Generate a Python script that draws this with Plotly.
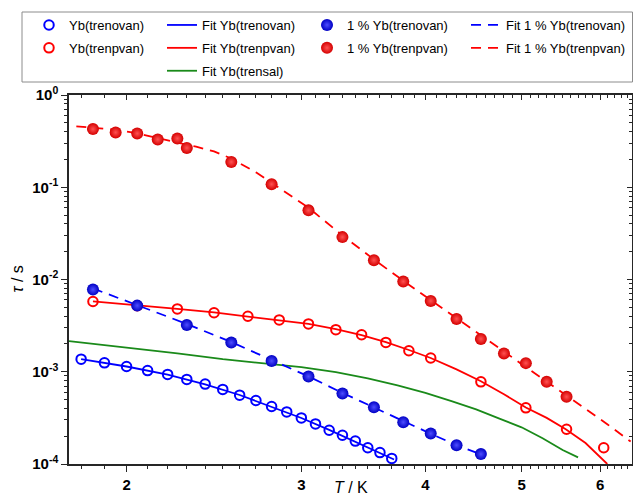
import math
import plotly.graph_objects as go

# ---------------- data ----------------
# Yb(trenovan)  (open blue circles)
T_ov = [1.8, 1.9, 2.0, 2.1, 2.2, 2.3, 2.4, 2.5, 2.6, 2.7, 2.8, 2.9, 3.0, 3.1, 3.2, 3.3, 3.4, 3.5, 3.6, 3.7]
tau_ov = [0.00137, 0.00125, 0.00114, 0.00103, 0.000935, 0.000826, 0.000735, 0.000643, 0.000557, 0.000488,
          0.000420, 0.000367, 0.000316, 0.000272, 0.000232, 0.000205, 0.000177, 0.000150, 0.000133, 0.000115]
# Fit Yb(trenovan)
Tf_ov = [1.8, 2.0, 2.2, 2.4, 2.6, 2.8, 3.0, 3.2, 3.4, 3.6, 3.72]
tauf_ov = [0.00137, 0.00114, 0.00093, 0.00073, 0.00056, 0.00042, 0.000315, 0.000234, 0.000175, 0.000132, 0.000112]

# Yb(trenpvan)  (open red circles)
T_pv = [1.85, 2.05, 2.25, 2.45, 2.65, 2.85, 3.05, 3.25, 3.45, 3.65, 3.85, 4.05, 4.55, 5.05, 5.55, 6.05]
tau_pv = [0.00577, 0.0052, 0.0048, 0.00436, 0.0040, 0.00365, 0.0033, 0.00286, 0.00252, 0.00208, 0.00169,
          0.00141, 0.000778, 0.000406, 0.000238, 0.000150]
# Fit Yb(trenpvan)
Tf_pv = [1.85, 2.05, 2.25, 2.45, 2.65, 2.85, 3.05, 3.25, 3.45, 3.65, 3.85, 4.05, 4.3, 4.55, 4.8, 5.05, 5.3,
         5.54, 5.8, 6.04, 6.1]
tauf_pv = [0.0058, 0.0053, 0.0048, 0.0044, 0.0040, 0.0036, 0.0033, 0.0029, 0.0025, 0.0021, 0.00172, 0.00141,
           0.00106, 0.00079, 0.00057, 0.00041, 0.000316, 0.000238, 0.000169, 0.00011, 0.0001]

# Fit Yb(trensal)
Tf_sal = [1.75, 2.0, 2.25, 2.5, 2.75, 3.0, 3.25, 3.5, 3.75, 4.0, 4.25, 4.5, 4.75, 5.0, 5.25, 5.5, 5.7]
tauf_sal = [0.00215, 0.00183, 0.00158, 0.00137, 0.00124, 0.00112, 0.00099, 0.00085, 0.00071, 0.00059,
            0.00048, 0.00039, 0.00031, 0.00025, 0.00019, 0.000142, 0.000118]

# 1 % Yb(trenovan)  (filled blue spheres)
T_ov1 = [1.85, 2.05, 2.3, 2.55, 2.8, 3.05, 3.3, 3.55, 3.8, 4.05, 4.3, 4.55]
tau_ov1 = [0.00778, 0.00521, 0.00322, 0.00207, 0.00131, 0.00089, 0.00058, 0.000413, 0.000284, 0.000214,
           0.000160, 0.000128]
# Fit 1 % Yb(trenovan)
Tf_ov1 = [1.85, 2.05, 2.3, 2.55, 2.8, 3.05, 3.3, 3.55, 3.8, 4.05, 4.3, 4.55]
tauf_ov1 = [0.0080, 0.0053, 0.0033, 0.0021, 0.00133, 0.00089, 0.00059, 0.00041, 0.000288, 0.000213,
            0.000160, 0.000127]

# 1 % Yb(trenpvan)  (filled red spheres)
T_pv1 = [1.85, 1.95, 2.05, 2.15, 2.25, 2.3, 2.55, 2.8, 3.05, 3.3, 3.55, 3.8, 4.05, 4.3, 4.55, 4.8, 5.05,
         5.3, 5.55]
tau_pv1 = [0.427, 0.393, 0.383, 0.330, 0.338, 0.267, 0.188, 0.108, 0.0562, 0.0288, 0.0162, 0.00951,
           0.00586, 0.00374, 0.00227, 0.00158, 0.00124, 0.000778, 0.000535]
# Fit 1 % Yb(trenpvan)
Tf_pv1 = [1.78, 1.85, 1.95, 2.05, 2.15, 2.25, 2.35, 2.45, 2.55, 2.7, 2.8, 3.05, 3.3, 3.55, 3.8, 4.05, 4.3,
          4.55, 4.8, 5.05, 5.3, 5.55, 5.8, 6.1, 6.44]
tauf_pv1 = [0.458, 0.445, 0.42, 0.385, 0.345, 0.305, 0.275, 0.245, 0.205, 0.145, 0.112, 0.060, 0.030,
            0.0165, 0.0097, 0.0060, 0.0038, 0.00245, 0.00163, 0.00112, 0.00078, 0.00055, 0.00040,
            0.00027, 0.000175]

# axes
x_major = [2, 3, 4, 5, 6]
x_major_text = ["2", "3", "4", "5", "6"]
y_major = [1e-4, 1e-3, 1e-2, 1e-1, 1]
y_major_text = ["10<sup>-4</sup>", "10<sup>-3</sup>", "10<sup>-2</sup>", "10<sup>-1</sup>", "10<sup>0</sup>"]
x_range = [1.75, 6.46]
y_range = [1e-4, 1]

# ---------------- styling ----------------
FONT = "Liberation Sans, Arial, sans-serif"
W, H = 633, 496
ML, MR, MT, MB = 69, 1, 95, 32
PW, PH = W - ML - MR, H - MT - MB
RED, BLUE, GREEN = "#ff0000", "#0000ff", "#1a8a1a"
LW = 1.8
DASH = "10px,7px"


def px_x(p):
    return (p - ML) / PW


def px_y(p):
    return (H - MB - p) / PH


fig = go.Figure()

# fits (drawn below markers)
fig.add_trace(go.Scatter(x=Tf_ov, y=tauf_ov, mode="lines", name="Fit Yb(trenovan)",
                         line=dict(color=BLUE, width=LW), legend="legend2", legendgroup="g2"))
fig.add_trace(go.Scatter(x=Tf_pv, y=tauf_pv, mode="lines", name="Fit Yb(trenpvan)",
                         line=dict(color=RED, width=LW), legend="legend2", legendgroup="g3"))
fig.add_trace(go.Scatter(x=Tf_sal, y=tauf_sal, mode="lines", name="Fit Yb(trensal)",
                         line=dict(color=GREEN, width=LW), legend="legend2", legendgroup="g4"))
fig.add_trace(go.Scatter(x=Tf_ov1, y=tauf_ov1, mode="lines", name="Fit 1 % Yb(trenovan)",
                         line=dict(color=BLUE, width=LW, dash=DASH), legend="legend4", legendgroup="g7"))
fig.add_trace(go.Scatter(x=Tf_pv1, y=tauf_pv1, mode="lines", name="Fit 1 % Yb(trenpvan)",
                         line=dict(color=RED, width=LW, dash=DASH), legend="legend4", legendgroup="g8"))

# open circles
fig.add_trace(go.Scatter(x=T_ov, y=tau_ov, mode="markers", name="Yb(trenovan)",
                         marker=dict(symbol="circle-open", size=9.5, color=BLUE, line=dict(width=2)),
                         legend="legend", legendgroup="g0"))
fig.add_trace(go.Scatter(x=T_pv, y=tau_pv, mode="markers", name="Yb(trenpvan)",
                         marker=dict(symbol="circle-open", size=9.5, color=RED, line=dict(width=2)),
                         legend="legend", legendgroup="g1"))

# spheres
fig.add_trace(go.Scatter(x=T_ov1, y=tau_ov1, mode="markers", name="1 % Yb(trenovan)",
                         marker=dict(symbol="circle", size=12, color="#0000c4",
                                     gradient=dict(type="radial", color="#4d4dff"), line=dict(width=0)),
                         legend="legend3", legendgroup="g5"))
fig.add_trace(go.Scatter(x=T_pv1, y=tau_pv1, mode="markers", name="1 % Yb(trenpvan)",
                         marker=dict(symbol="circle", size=12, color="#d40000",
                                     gradient=dict(type="radial", color="#ff5252"), line=dict(width=0)),
                         legend="legend3", legendgroup="g6"))

# helper trace to carry the mirrored top/right axes
fig.add_trace(go.Scatter(x=[x_major[0]], y=[y_major[0]], xaxis="x2", yaxis="y2", mode="markers",
                         marker=dict(opacity=0), showlegend=False, hoverinfo="skip"))

x_minor = [round(v / 10, 1) for v in range(18, 65) if v % 10 != 0]
y_minor = [k * 10 ** e for e in range(-4, 0) for k in range(2, 10)]

AX_COLOR = "#262626"
common_x = dict(type="log", range=[math.log10(x_range[0]), math.log10(x_range[1])],
                showgrid=False, zeroline=False, showline=True, linecolor=AX_COLOR, linewidth=1.5,
                tickmode="array", tickvals=x_major, tickwidth=1.3, tickcolor=AX_COLOR)
common_y = dict(type="log", range=[math.log10(y_range[0]), math.log10(y_range[1])], showgrid=False,
                zeroline=False, showline=True, linecolor=AX_COLOR, linewidth=1.5, tickmode="array",
                tickvals=y_major, tickwidth=1.3, tickcolor=AX_COLOR)

fig.update_layout(
    width=W, height=H, margin=dict(l=ML, r=MR, t=MT, b=MB, pad=0),
    paper_bgcolor="white", plot_bgcolor="white",
    font=dict(family=FONT, color="black"),
    xaxis=dict(**common_x, ticktext=x_major_text, ticks="outside", ticklen=6,
               tickfont=dict(size=15, weight="bold", family=FONT),
               minor=dict(tickvals=x_minor, ticks="outside", ticklen=3.5, tickwidth=1.1, tickcolor=AX_COLOR)),
    yaxis=dict(**common_y, ticktext=y_major_text, ticks="outside", ticklen=6,
               tickfont=dict(size=15, weight="bold", family=FONT),
               minor=dict(tickvals=y_minor, ticks="outside", ticklen=3.5, tickwidth=1.1, tickcolor=AX_COLOR)),
    xaxis2=dict(**common_x, overlaying="x", side="top", anchor="y2", ticks="inside", ticklen=5,
                showticklabels=False,
                minor=dict(tickvals=x_minor, ticks="inside", ticklen=3, tickwidth=1.1, tickcolor=AX_COLOR)),
    yaxis2=dict(**common_y, overlaying="y", side="right", anchor="x2", ticks="inside", ticklen=5,
                showticklabels=False,
                minor=dict(tickvals=y_minor, ticks="inside", ticklen=3, tickwidth=1.1, tickcolor=AX_COLOR)),
    showlegend=True,
)

leg_common = dict(orientation="v", xanchor="left", yanchor="top", bgcolor="rgba(0,0,0,0)",
                  borderwidth=0, font=dict(size=13, family=FONT, color="black"),
                  tracegroupgap=3, itemclick=False, itemdoubleclick=False)
leg_top = px_y(10)
fig.update_layout(
    legend=dict(**leg_common, x=px_x(29), y=leg_top),
    legend2=dict(**leg_common, x=px_x(162), y=leg_top),
    legend3=dict(**leg_common, x=px_x(307), y=leg_top),
    legend4=dict(**leg_common, x=px_x(466), y=leg_top),
)

# legend frame
fig.add_shape(type="rect", xref="paper", yref="paper", x0=px_x(22), x1=px_x(632.5),
              y0=px_y(82), y1=px_y(12), line=dict(color="#8c8c8c", width=1), layer="above")

# axis titles
fig.add_annotation(text="<i>T</i> / K", xref="paper", yref="paper", x=0.5, y=px_y(487),
                   showarrow=False, xanchor="center", yanchor="middle", font=dict(size=16, family=FONT))
fig.add_annotation(text="<i>τ</i> / s", xref="paper", yref="paper", x=px_x(17), y=0.5,
                   showarrow=False, textangle=-90, xanchor="center", yanchor="middle",
                   font=dict(size=16, family=FONT))

fig.write_html("out.html")
